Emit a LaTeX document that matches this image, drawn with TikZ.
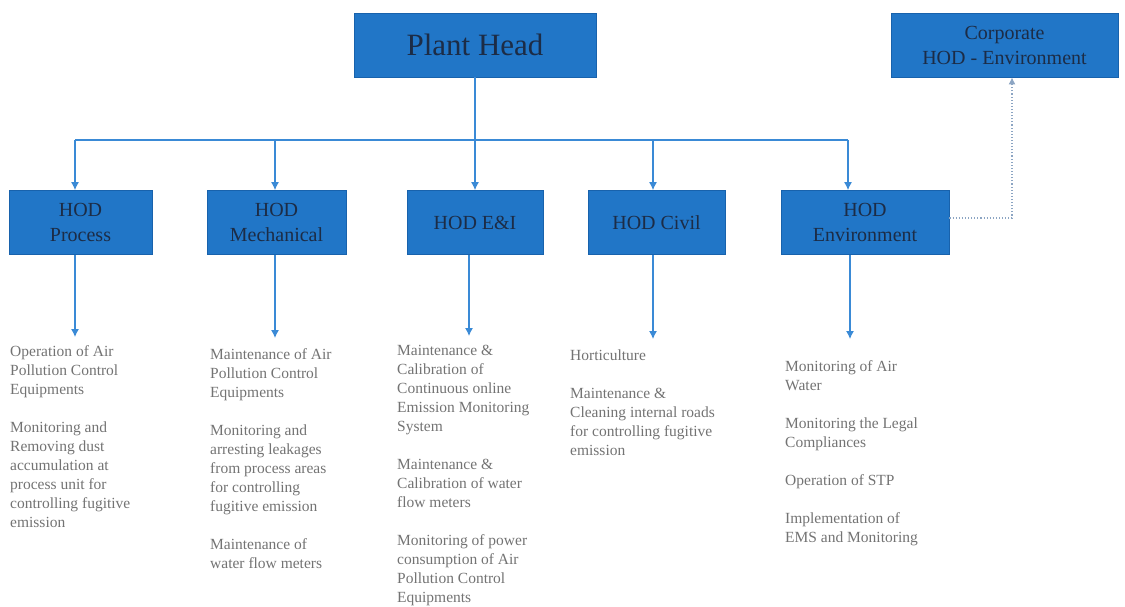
\documentclass[tikz,border=0pt]{standalone}
\usepackage{fontspec}
\setmainfont{Liberation Serif}
\usetikzlibrary{arrows.meta}
\definecolor{boxblue}{RGB}{33,118,199}
\definecolor{boxedge}{RGB}{24,98,172}
\definecolor{boxtext}{RGB}{28,44,70}
\definecolor{linkblue}{RGB}{58,138,214}
\definecolor{bodygray}{RGB}{115,115,115}
\definecolor{dotgray}{RGB}{140,165,195}
\begin{document}
\begin{tikzpicture}[x=1pt,y=-1pt,
  hodbox/.style={draw=boxedge, line width=0.8pt, fill=boxblue, text=boxtext, minimum height=64pt, inner sep=2pt, align=center, font=\fontsize{20}{25}\selectfont},
  link/.style={draw=linkblue, line width=1.1pt, -{Latex[length=8pt,width=8pt]}},
  plainlink/.style={draw=linkblue, line width=1.1pt},
  duty/.style={anchor=north west, inner sep=0pt, align=left, text=bodygray, font=\fontsize{15.5}{19}\selectfont},
  dotlink/.style={draw=dotgray, line width=1.1pt, dotted, -{Latex[length=7pt,width=7pt]}}
]
\useasboundingbox (0,0) rectangle (1125,607);

% top boxes
\node[hodbox, minimum width=242pt, font=\fontsize{31}{36}\selectfont] (ph) at (475,45) {Plant Head};
\node[hodbox, minimum width=227pt] (corp) at (1004.5,45) {Corporate\\HOD - Environment};

% HOD boxes
\node[hodbox, minimum width=143pt] (proc) at (80.5,222.5) {HOD\\Process};
\node[hodbox, minimum width=139pt] (mech) at (276.5,222.5) {HOD\\Mechanical};
\node[hodbox, minimum width=136pt] (ei)   at (475,222.5) {HOD E\&I};
\node[hodbox, minimum width=137pt] (civ)  at (656.5,222.5) {HOD Civil};
\node[hodbox, minimum width=168pt] (env)  at (865,222.5) {HOD\\Environment};

% bus
\coordinate (busL) at (75,140);
\coordinate (busM) at (275,140);
\coordinate (busC) at (653,140);
\coordinate (busR) at (848,140);
\draw[plainlink] (busL) -- (busR);
\draw[link] (ph.south) -- (ei.north);
\draw[link] (busL) -- (busL |- proc.north);
\draw[link] (busM) -- (busM |- mech.north);
\draw[link] (busC) -- (busC |- civ.north);
\draw[link] (busR) -- (busR |- env.north);

% dotted link to corporate
\coordinate (cc) at (1012,218);
\draw[dotlink] (env.east |- cc) -- (cc) -- (cc |- corp.south);

% down arrows
\coordinate (d1) at (75,337);
\coordinate (d2) at (275,338);
\coordinate (d3) at (469,336);
\coordinate (d4) at (653,339);
\coordinate (d5) at (850,339);
\draw[link] (d1 |- proc.south) -- (d1);
\draw[link] (d2 |- mech.south) -- (d2);
\draw[link] (d3 |- ei.south) -- (d3);
\draw[link] (d4 |- civ.south) -- (d4);
\draw[link] (d5 |- env.south) -- (d5);

% duties
\node[duty] (tproc) at (10,345) {Operation of Air\\Pollution Control\\Equipments\\[19pt]Monitoring and\\Removing dust\\accumulation at\\process unit for\\controlling fugitive\\emission};
\node[duty] (tmech) at (210,348) {Maintenance of Air\\Pollution Control\\Equipments\\[19pt]Monitoring and\\arresting leakages\\from process areas\\for controlling\\fugitive emission\\[19pt]Maintenance of\\water flow meters};
\node[duty] (tei) at (397,345) {Maintenance \&\\Calibration of\\Continuous online\\Emission Monitoring\\System\\[19pt]Maintenance \&\\Calibration of water\\flow meters\\[19pt]Monitoring of power\\consumption of Air\\Pollution Control\\Equipments};
\node[duty] (tciv) at (570,350) {Horticulture\\[19pt]Maintenance \&\\Cleaning internal roads\\for controlling fugitive\\emission};
\node[duty] (tenv) at (785,360) {Monitoring of Air\\Water\\[19pt]Monitoring the Legal\\Compliances\\[19pt]Operation of STP\\[19pt]Implementation of\\EMS and Monitoring};
\end{tikzpicture}
\end{document}
